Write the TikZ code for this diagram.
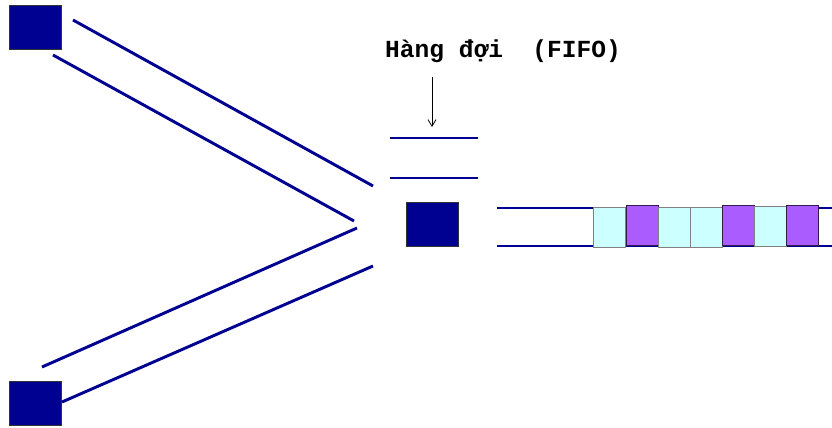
\documentclass[tikz,border=0pt]{standalone}
\usepackage{fontspec}
\newfontfamily\labelfont{Liberation Mono}
\usetikzlibrary{arrows.meta}

\definecolor{linkblue}{RGB}{0,0,145}
\definecolor{pktcyan}{RGB}{204,255,255}
\definecolor{pktpurple}{RGB}{170,92,255}

\tikzset{
  host/.style={draw=black!80, line width=0.6pt, fill=linkblue, inner sep=0pt,
    minimum width=39pt, minimum height=33pt},
  link/.style={draw=linkblue, line width=2.2pt},
  pkt/.style={line width=1.1pt, inner sep=0pt, anchor=north west,
    minimum width=24pt, minimum height=30pt},
  cyanpkt/.style={pkt, fill=pktcyan, draw=gray},
  purplepkt/.style={pkt, fill=pktpurple, draw=black!70!pktpurple},
  qlabel/.style={font=\labelfont\bfseries\fontsize{18.4}{20}\selectfont, anchor=base}
}

\begin{document}
\begin{tikzpicture}[x=0.75pt,y=-0.75pt]
    \useasboundingbox (0,0) rectangle (832,428);

    % Draw the hosts and the router
    \node[host] (hostA) at (35,27) {};
    \node[host] (hostB) at (35,403) {};
    \node[host] (router) at (432,224) {};

    % Link end points
    \coordinate (a1) at (73,20);  \coordinate (r1) at (373,186);
    \coordinate (a2) at (53,55);  \coordinate (r2) at (354,221);
    \coordinate (b1) at (42,367); \coordinate (r3) at (357,228);
    \coordinate (b2) at (62,402); \coordinate (r4) at (373,266);

    % Draw the incoming links
    \draw[link] (a1) -- (r1);
    \draw[link] (a2) -- (r2);
    \draw[link] (r3) -- (b1);
    \draw[link] (r4) -- (b2);

    % Draw the queue slots
    \coordinate (q1) at (390,138); \coordinate (q2) at (478,138);
    \coordinate (q3) at (390,178); \coordinate (q4) at (478,178);
    \draw[link] (q1) -- (q2);
    \draw[link] (q3) -- (q4);

    % Draw the outgoing link
    \coordinate (o1) at (497,208); \coordinate (o2) at (833,208);
    \coordinate (o3) at (497,246); \coordinate (o4) at (833,246);
    \draw[link] (o1) -- (o2);
    \draw[link] (o3) -- (o4);

    % Draw the packets on the link
    \foreach \x/\y/\kind [count=\i] in {593/207/cyanpkt, 626/205/purplepkt,
        658/207/cyanpkt, 690/207/cyanpkt, 722/205/purplepkt,
        754/206/cyanpkt, 786/205/purplepkt}
      \node[\kind] (pkt\i) at (\x,\y) {};

    % Label the queue
    \node[qlabel] (fifo) at (503,58) {Hàng đợi\ \ (FIFO)};
    \coordinate (ftop) at (432,77);
    \coordinate (qin) at (432,127);
    \draw[line width=0.6pt, -{Straight Barb[length=5pt,width=6pt]}] (ftop) -- (qin);

\end{tikzpicture}
\end{document}
